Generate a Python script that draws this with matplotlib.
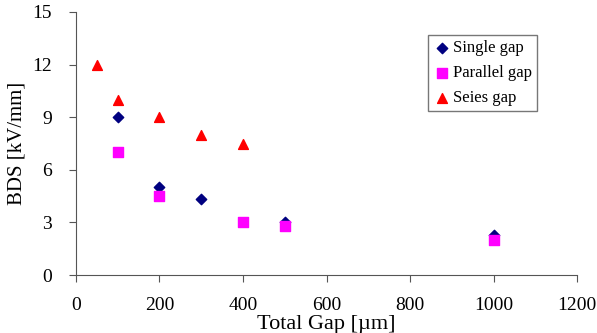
import matplotlib
matplotlib.use('Agg')
import matplotlib.pyplot as plt

plt.rcParams['font.family'] = ['Liberation Serif', 'DejaVu Serif']

# Data
single_x = [100, 200, 300, 500, 1000]
single_y = [9, 5, 4.35, 3, 2.3]
parallel_x = [100, 200, 400, 500, 1000]
parallel_y = [7, 4.5, 3, 2.8, 2]
series_x = [50, 100, 200, 300, 400]
series_y = [12, 10, 9, 8, 7.5]

x_ticks = [0, 200, 400, 600, 800, 1000, 1200]
y_ticks = [0, 3, 6, 9, 12, 15]

fig = plt.figure(figsize=(5.97, 3.33), dpi=100)
ax = fig.add_axes([0.127, 0.174, 0.840, 0.790])

ax.scatter(single_x, single_y, marker='D', s=28, color='#000080', label='Single gap', zorder=3)
ax.scatter(parallel_x, parallel_y, marker='s', s=45, color='#FF00FF', label='Parallel gap', zorder=3)
ax.scatter(series_x, series_y, marker='^', s=50, color='#FF0000', label='Seies gap', zorder=3)

ax.set_xlim(0, 1200)
ax.set_ylim(0, 15)
ax.set_xticks(x_ticks)
ax.set_yticks(y_ticks)
ax.tick_params(direction='out', length=5, color='#555555', labelsize=14)
ax.tick_params(axis='x', pad=11)
ax.tick_params(axis='y', pad=12)

for side in ['top', 'right']:
    ax.spines[side].set_visible(False)
for side in ['left', 'bottom']:
    ax.spines[side].set_color('#555555')

ax.set_xlabel('Total Gap [µm]', fontsize=16)
ax.xaxis.set_label_coords(0.5, -0.152)
ax.set_ylabel('BDS [kV/mm]', fontsize=15)
ax.yaxis.set_label_coords(-0.098, 0.5)

leg = ax.legend(loc='upper right', bbox_to_anchor=(0.92, 0.913), borderaxespad=0,
                fontsize=12, frameon=True, fancybox=False, handletextpad=0.2,
                borderpad=0.3, labelspacing=0.55, handlelength=1.0)
leg.get_frame().set_edgecolor('#555555')
leg.get_frame().set_linewidth(1.0)

fig.savefig('out.png', dpi=100)
